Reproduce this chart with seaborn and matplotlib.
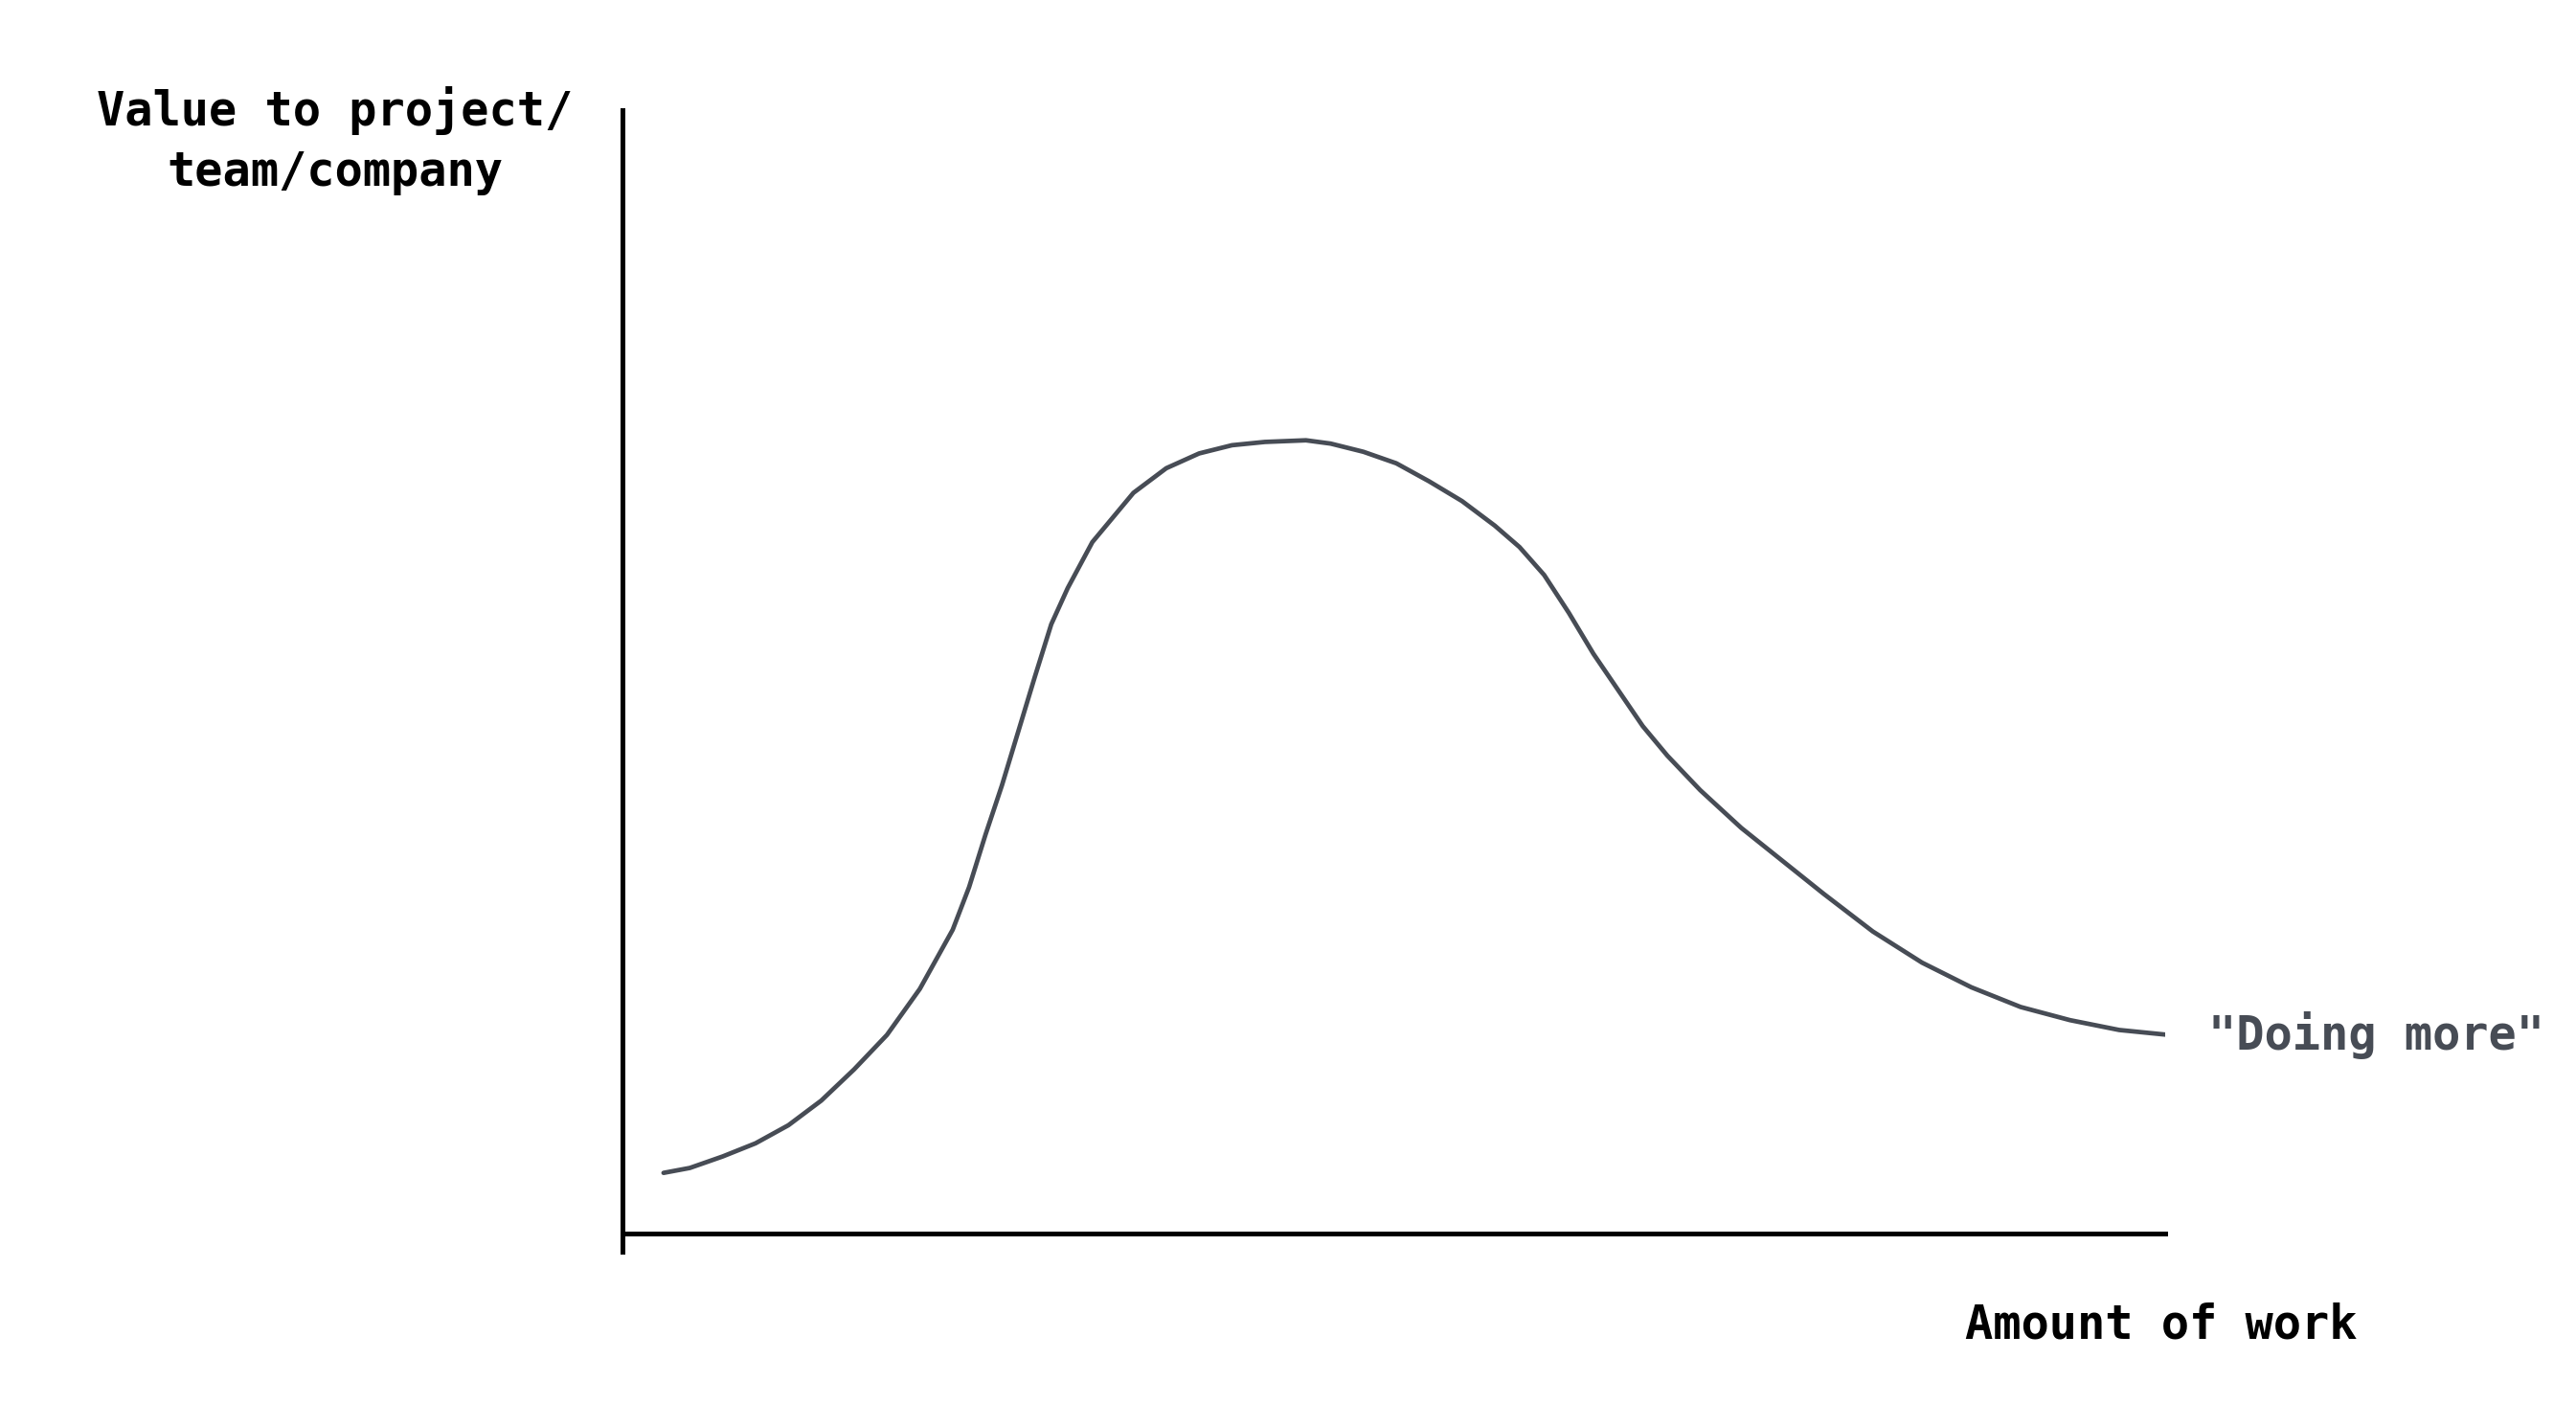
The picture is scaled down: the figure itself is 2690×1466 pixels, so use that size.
import numpy as np
import matplotlib
matplotlib.use("Agg")
import matplotlib.pyplot as plt
import seaborn as sns
import pandas as pd

# hand-drawn "value vs amount of work" curve
work = [25, 41, 61, 81, 101, 121, 141, 161, 181, 201, 211, 221, 231, 241, 251,
        261, 271, 286, 311, 331, 351, 371, 391, 416, 431, 451, 471, 491, 511,
        531, 546, 561, 576, 591, 606, 621, 636, 656, 681, 711, 731, 761, 791,
        821, 851, 881, 911, 941]
value = [37, 40, 47, 55, 66, 81, 100, 121, 149, 185, 211, 243, 273, 306, 339,
         371, 393, 421, 451, 466, 475, 480, 482, 483, 481, 476, 469, 458, 446,
         431, 418, 401, 378, 353, 331, 309, 291, 270, 247, 223, 207, 184, 165,
         150, 138, 130, 124, 121]

df = pd.DataFrame({"work": work, "value": value})

sns.set_style("white")
plt.rcParams["font.family"] = ["DejaVu Sans Mono", "DejaVu Sans"]

fig = plt.figure(figsize=(26.9, 14.66), dpi=100)
ax = fig.add_axes([650 / 2690, 1 - 1307 / 1466, (2261 - 650) / 2690, (1307 - 115) / 1466])

sns.lineplot(data=df, x="work", y="value", ax=ax, color="#474c55", linewidth=3.4,
             solid_capstyle="round", solid_joinstyle="round")

ax.set_xlim(0, 939)
ax.set_ylim(-11, 684)
ax.spines["top"].set_visible(False)
ax.spines["right"].set_visible(False)
for side in ["left", "bottom"]:
    ax.spines[side].set_linewidth(3.6)
    ax.spines[side].set_color("black")
ax.spines["bottom"].set_position(("data", 0))
ax.set_xticks([])
ax.set_yticks([])
ax.set_xlabel("")
ax.set_ylabel("")

fig.text(350 / 2690, 1 - 147 / 1466, "Value to project/\nteam/company", ha="center",
         va="center", fontsize=35, color="black", linespacing=1.4, fontweight="bold")
fig.text(2462 / 2690, 1 - 1383 / 1466, "Amount of work", ha="right", va="center",
         fontsize=35, color="black", fontweight="bold")
ax.text(work[-1] + 24, value[-1], '"Doing more"', fontsize=35, color="#474c55",
        va="center", ha="left", fontweight="bold")

fig.savefig("out.png", dpi=100, facecolor="white")
